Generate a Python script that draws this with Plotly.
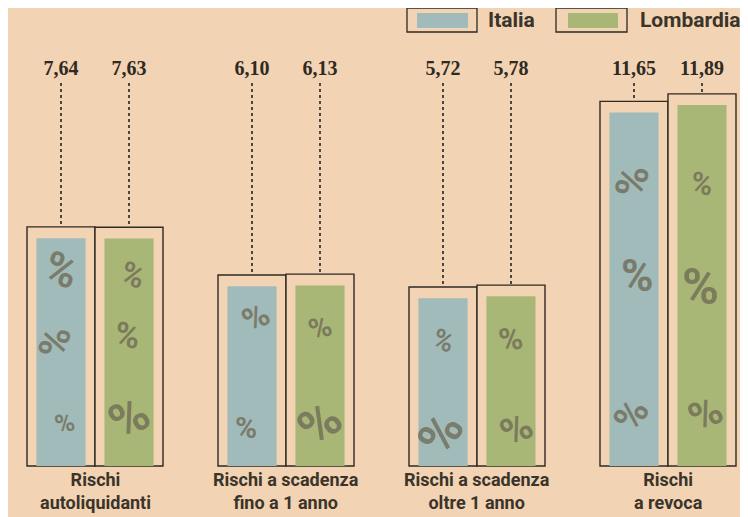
import plotly.graph_objects as go

# ---- data ----
categories = ["Rischi<br>autoliquidanti", "Rischi a scadenza<br>fino a 1 anno",
              "Rischi a scadenza<br>oltre 1 anno", "Rischi<br>a revoca"]
italia = [7.64, 6.10, 5.72, 11.65]
lombardia = [7.63, 6.13, 5.78, 11.89]
italia_labels = ["7,64", "6,10", "5,72", "11,65"]
lombardia_labels = ["7,63", "6,13", "5,78", "11,89"]
series_names = ["Italia", "Lombardia"]

# ---- style ----
BG = "#F2D3B3"
C_IT = "#A0BBB9"
C_LO = "#A8B776"
INK = "#2f2a22"
TXT = "#3b342a"
PCT = "rgba(112,106,86,0.78)"

OFFS = 8                      # page offset of the figure inside the browser window
W, H = 748 - OFFS, 517 - OFFS
PLOT_H = 460
PXU = 31.3                    # pixels per data unit
Y_MIN = -0.064
Y_MAX = Y_MIN + PLOT_H / PXU
CX0 = 95 - OFFS               # pixel centre of first category
CSTEP = 191
OFF = 0.178
BOX_W = 0.356
FILL_W = 0.257
TOP_INSET = 0.36
LABEL_Y = 12.66
DOT_TOP = 12.24

xs = list(range(len(categories)))
x_it = [x - OFF for x in xs]
x_lo = [x + OFF for x in xs]

fig = go.Figure()

for xv, vals in ((x_it, italia), (x_lo, lombardia)):
    fig.add_trace(go.Bar(x=xv, y=vals, width=BOX_W, marker=dict(color=BG, line=dict(color=INK, width=1.4)),
                         showlegend=False, hoverinfo="skip"))
for xv, vals, col, nm in ((x_it, italia, C_IT, "Italia"), (x_lo, lombardia, C_LO, "Lombardia")):
    fig.add_trace(go.Bar(x=xv, y=[v - TOP_INSET for v in vals], width=FILL_W,
                         marker=dict(color=col, line=dict(width=0)), name=nm, showlegend=False,
                         hovertext=[f"{nm}: {v}" for v in vals], hoverinfo="text"))

for xv, vals in ((x_it, italia), (x_lo, lombardia)):
    for x, v in zip(xv, vals):
        fig.add_trace(go.Scatter(x=[x, x], y=[DOT_TOP, v], mode="lines",
                                 line=dict(color="#4a4540", width=2, dash="dot"),
                                 showlegend=False, hoverinfo="skip"))

fig.add_trace(go.Scatter(x=x_it + x_lo, y=[LABEL_Y] * 8, mode="text",
                         text=[f"<b>{t}</b>" for t in italia_labels + lombardia_labels],
                         textfont=dict(family="Liberation Serif", size=20, color=INK),
                         showlegend=False, hoverinfo="skip"))

# decorative "%" watermarks: (category, series, fraction of bar height, dx, size, angle)
deco = [(0, 0, 0.82, 0.0, 44, 20), (0, 0, 0.52, -0.03, 40, -80), (0, 0, 0.18, 0.02, 26, -15),
        (0, 1, 0.80, 0.02, 32, 20), (0, 1, 0.55, -0.01, 34, 10), (0, 1, 0.20, 0.0, 50, -30),
        (1, 0, 0.78, 0.02, 34, -30), (1, 0, 0.20, -0.03, 30, 0),
        (1, 1, 0.72, 0.0, 30, -20), (1, 1, 0.22, 0.0, 52, -40),
        (2, 0, 0.70, 0.0, 28, 20), (2, 0, 0.18, -0.01, 52, -60),
        (2, 1, 0.70, 0.0, 32, -10), (2, 1, 0.20, 0.03, 40, -30),
        (3, 0, 0.78, -0.01, 42, -80), (3, 0, 0.52, 0.02, 44, 0), (3, 0, 0.14, -0.01, 40, -60),
        (3, 1, 0.76, 0.0, 30, 10), (3, 1, 0.48, -0.01, 50, 0), (3, 1, 0.14, 0.02, 42, -30)]
for c, s, f, dx, sz, ang in deco:
    xb = (x_it if s == 0 else x_lo)[c]
    v = (italia if s == 0 else lombardia)[c]
    fig.add_annotation(x=xb + dx, y=v * f, text="<b>%</b>", showarrow=False, textangle=ang,
                       font=dict(family="Roboto", size=sz, color=PCT))

# category labels (two lines each)
for x, cat in zip(xs, categories):
    fig.add_annotation(x=x, xref="x", yref="paper", y=(PLOT_H - (491 - OFFS)) / PLOT_H,
                       yanchor="middle", text="<b>" + cat.replace("<br>", "</b><br><b>") + "</b>",
                       showarrow=False, font=dict(family="Roboto", size=18, color=TXT))

def px_x(p):
    return (p - OFFS) / W

def px_y(p):
    return (PLOT_H - (p - OFFS)) / PLOT_H

for (bx0, bx1, fx0, fx1, col, tx, name) in ((407, 477, 417, 468, C_IT, 486, series_names[0]),
                                             (556, 627, 568, 618, C_LO, 638, series_names[1])):
    fig.add_shape(type="rect", xref="paper", yref="paper", x0=px_x(bx0), x1=px_x(bx1),
                  y0=px_y(32), y1=px_y(8), line=dict(color=INK, width=1.3), fillcolor=BG)
    fig.add_shape(type="rect", xref="paper", yref="paper", x0=px_x(fx0), x1=px_x(fx1),
                  y0=px_y(28), y1=px_y(13), line=dict(width=0), fillcolor=col)
    fig.add_annotation(xref="paper", yref="paper", x=px_x(tx), y=px_y(20), xanchor="left",
                       yanchor="middle", text=f"<b>{name}</b>", showarrow=False,
                       font=dict(family="Roboto", size=21, color=TXT))

fig.update_layout(
    width=W, height=H, barmode="overlay",
    paper_bgcolor=BG, plot_bgcolor=BG,
    margin=dict(l=0, r=0, t=0, b=H - PLOT_H),
    xaxis=dict(range=[-CX0 / CSTEP, (W - CX0) / CSTEP], showticklabels=False, showgrid=False,
               zeroline=False, showline=False, ticks=""),
    yaxis=dict(range=[Y_MIN, Y_MAX], visible=False, showgrid=False, zeroline=False),
    font=dict(family="Roboto"),
)

fig.write_html("out.html")
